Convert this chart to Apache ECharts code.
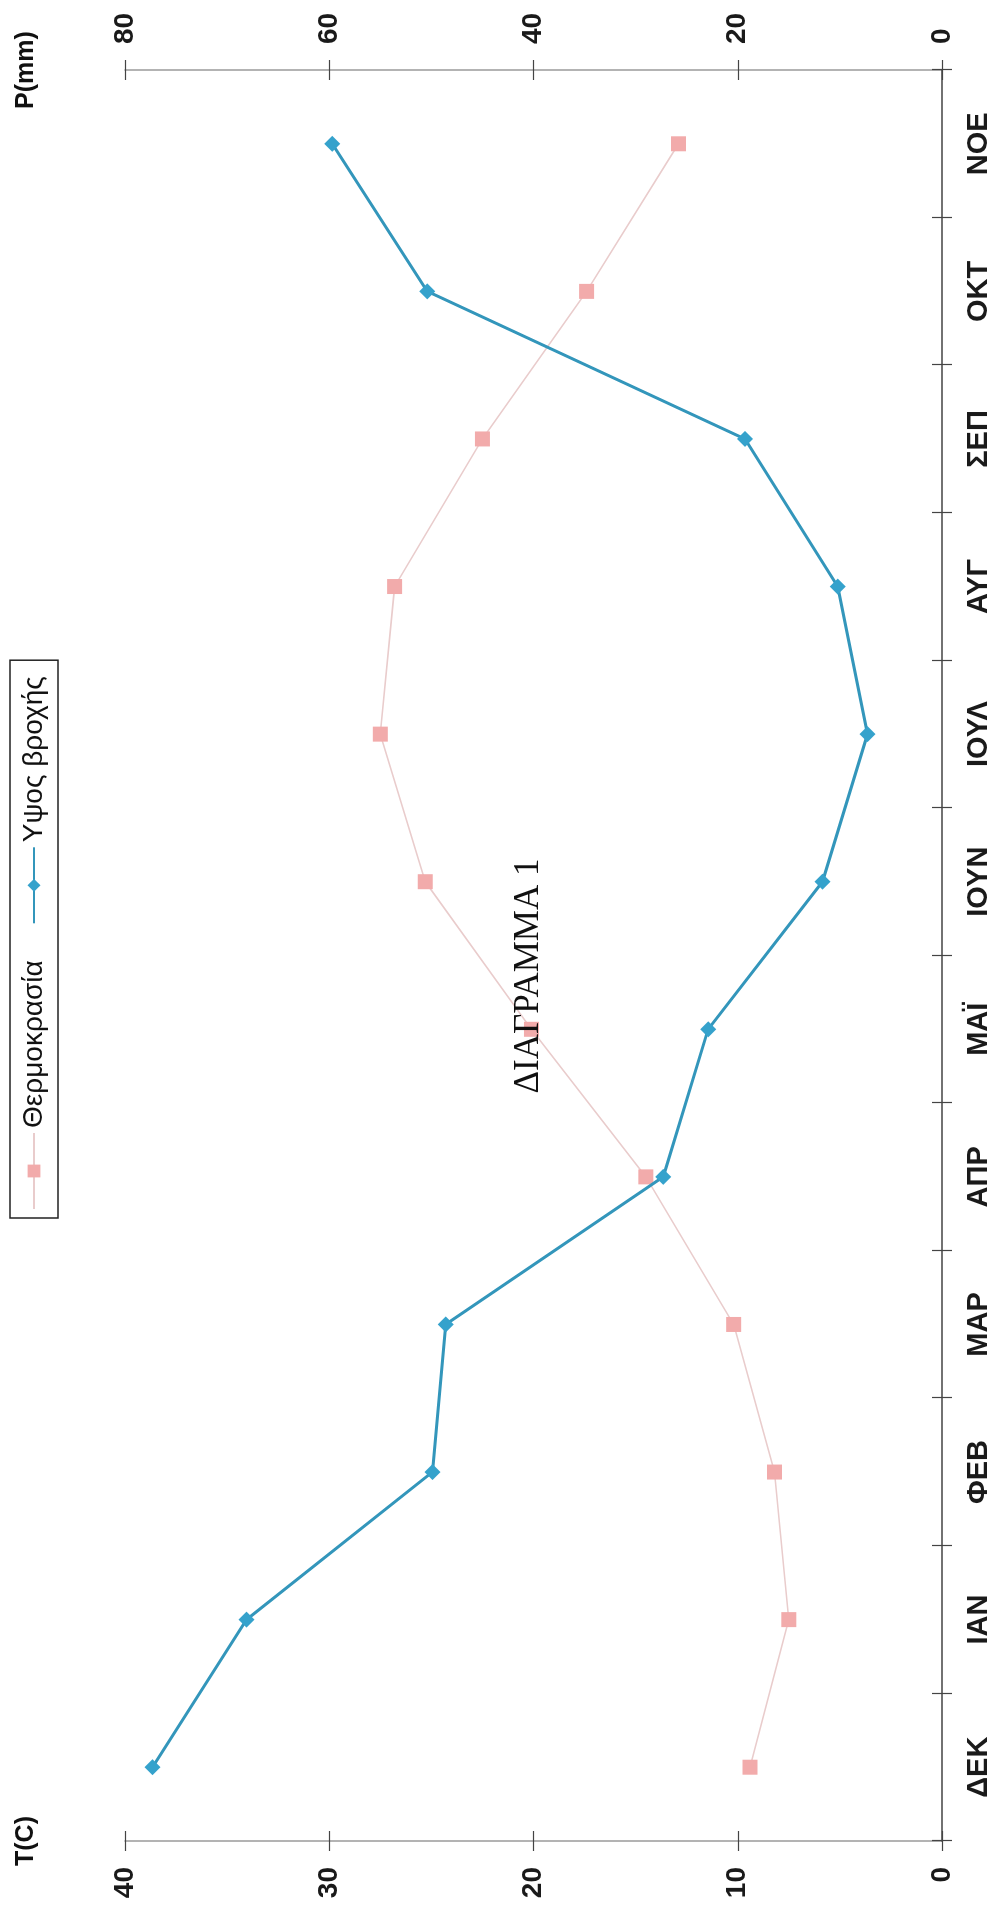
<!DOCTYPE html>
<html>
<head>
<meta charset="utf-8">
<script src="https://cdn.jsdelivr.net/npm/echarts@6/dist/echarts.min.js"></script>
<style>
html,body{margin:0;padding:0;background:#fff;overflow:hidden;width:1001px;height:1914px;}
#wrap{position:absolute;left:0;top:0;width:1914px;height:1001px;transform-origin:0 0;transform:translateY(1914px) rotate(-90deg);}
#chart{width:1914px;height:1001px;}
</style>
</head>
<body>
<div id="wrap"><div id="chart"></div></div>
<script>
var categories = ['ΔΕΚ','ΙΑΝ','ΦΕΒ','ΜΑΡ','ΑΠΡ','ΜΑΪ','ΙΟΥΝ','ΙΟΥΛ','ΑΥΓ','ΣΕΠ','ΟΚΤ','ΝΟΕ'];
var temperature = [9.4, 7.5, 8.2, 10.2, 14.5, 20.1, 25.3, 27.5, 26.8, 22.5, 17.4, 12.9];
var rainfall = [77.3, 68.1, 49.9, 48.6, 27.3, 22.9, 11.7, 7.3, 10.2, 19.3, 50.4, 59.7];
var seriesNames = ['Θερμοκρασία', 'Υψος βροχής'];
var axisNames = ['T(C)', 'P(mm)'];
var annotation = 'ΔΙΑΓΡΑΜΜΑ 1';

var FONT = '"Liberation Sans", Arial, sans-serif';
var chart = echarts.init(document.getElementById('chart'), null, {renderer: 'canvas'});

function valueAxis(pos, max, interval, name) {
  return {
    type: 'value', position: pos, min: 0, max: max, interval: interval,
    name: name, nameLocation: 'end', nameGap: 86,
    nameTextStyle: {fontSize: 25, fontWeight: 'bold', color: '#111', fontFamily: FONT, align: 'center', verticalAlign: 'bottom'},
    axisLine: {show: true, lineStyle: {color: '#9a9a9a', width: 1.5}},
    axisTick: {show: true, length: 10, lineStyle: {color: '#444', width: 1.2}},
    axisLabel: {margin: 26, fontSize: 28, fontWeight: 'bold', color: '#1a1a1a', fontFamily: FONT},
    splitLine: {show: false}
  };
}
function innerValueAxis(pos, max, interval) {
  return {
    type: 'value', position: pos, min: 0, max: max, interval: interval,
    axisLine: {show: false},
    axisTick: {show: true, inside: true, length: 10, lineStyle: {color: '#444', width: 1.2}},
    axisLabel: {show: false}, splitLine: {show: false}
  };
}

var option = {
  animation: false,
  backgroundColor: '#fff',
  grid: {left: 73, right: 70, top: 125, bottom: 59, containLabel: false},
  legend: {
    left: 696, top: 10, orient: 'horizontal',
    data: seriesNames,
    itemWidth: 76, itemHeight: 16, itemGap: 36,
    padding: [10, 16, 10, 8],
    borderColor: '#222', borderWidth: 1.5, borderRadius: 0,
    textStyle: {fontSize: 28, color: '#111', fontFamily: FONT}
  },
  xAxis: [
    {
      type: 'category', data: categories, boundaryGap: true,
      axisLine: {show: true, lineStyle: {color: '#444', width: 1.5}},
      axisTick: {show: true, length: 10, lineStyle: {color: '#444', width: 1.2}},
      axisLabel: {margin: 22, fontSize: 29, fontWeight: 'bold', color: '#1a1a1a', fontFamily: FONT},
      splitLine: {show: false}
    },
    {
      type: 'category', data: categories, boundaryGap: true, position: 'bottom',
      axisLine: {show: false},
      axisTick: {show: true, inside: true, length: 10, lineStyle: {color: '#444', width: 1.2}},
      axisLabel: {show: false}, splitLine: {show: false}
    }
  ],
  yAxis: [
    valueAxis('left', 40, 10, axisNames[0]),
    valueAxis('right', 80, 20, axisNames[1]),
    innerValueAxis('left', 40, 10),
    innerValueAxis('right', 80, 20)
  ],
  graphic: [{
    type: 'text', x: 938, y: 529, z: 100,
    style: {text: annotation, fontSize: 35, fontFamily: '"Liberation Serif", "Times New Roman", serif', fill: '#111', align: 'center', verticalAlign: 'middle'}
  }],
  series: [
    {
      name: seriesNames[0], type: 'line', xAxisIndex: 0, yAxisIndex: 0, data: temperature,
      symbol: 'rect', symbolSize: 15,
      itemStyle: {color: '#f2abab'},
      lineStyle: {color: '#e9cccc', width: 1.6},
      z: 2
    },
    {
      name: seriesNames[1], type: 'line', xAxisIndex: 0, yAxisIndex: 1, data: rainfall,
      symbol: 'diamond', symbolSize: 16,
      itemStyle: {color: '#35a2cc'},
      lineStyle: {color: '#3396bb', width: 3},
      z: 3
    }
  ]
};
chart.setOption(option);
</script>
</body>
</html>
